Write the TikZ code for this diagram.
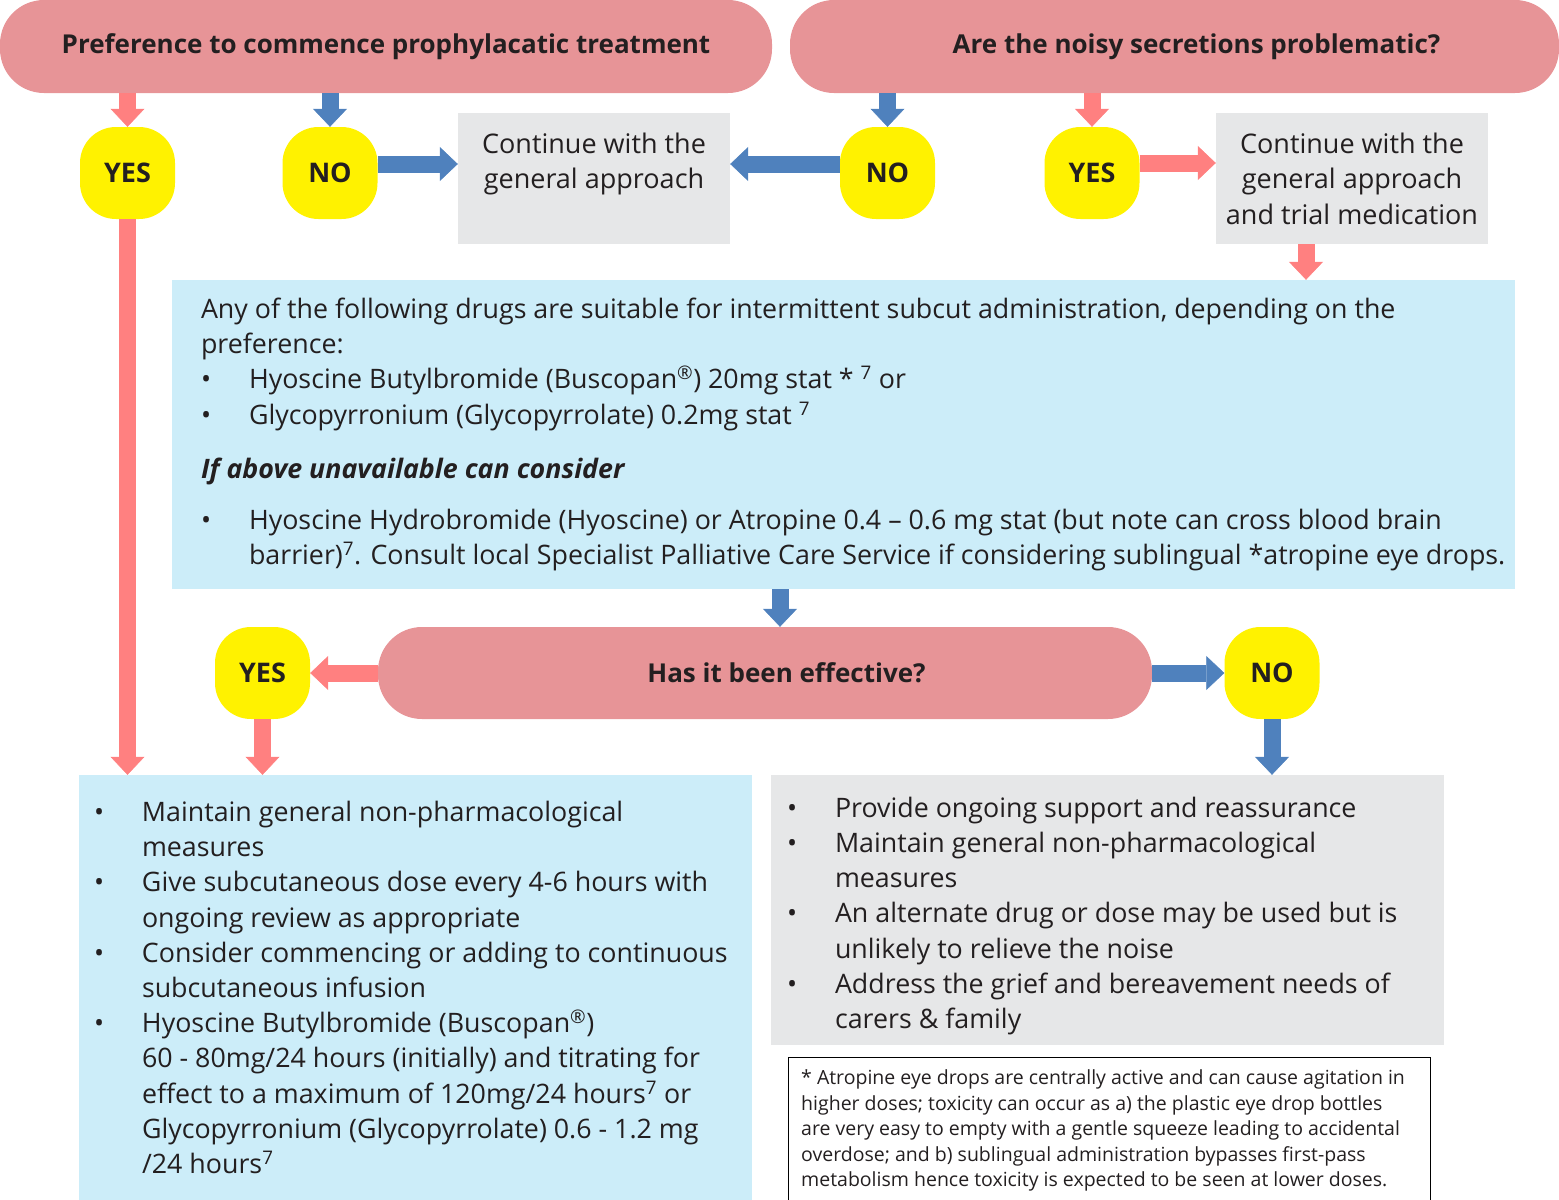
\documentclass[tikz,border=0pt]{standalone}
\usepackage{fontspec}
\setmainfont{Open Sans}
\usetikzlibrary{arrows.meta,positioning}
\definecolor{pillred}{HTML}{E79497}
\definecolor{yesno}{HTML}{FFF200}
\definecolor{pinkarrow}{HTML}{FF8080}
\definecolor{bluearrow}{HTML}{4F81BD}
\definecolor{skyfill}{HTML}{CCEDF9}
\definecolor{greyfill}{HTML}{E6E7E8}
\definecolor{ink}{HTML}{231F20}
\newcommand{\itemdot}{\makebox[48pt][l]{•}}
\newcommand{\itemgap}{\hspace*{48pt}}

\begin{document}
\begin{tikzpicture}[x=1pt,y=-1pt,
 pill/.style={fill=pillred,rounded corners=44pt,minimum height=93pt,inner sep=0pt,
   font=\fontsize{26}{30}\selectfont\bfseries,text=ink},
 yn/.style={fill=yesno,rounded corners=36pt,minimum width=95pt,minimum height=92pt,
   inner sep=0pt,font=\fontsize{27}{30}\selectfont\bfseries,text=ink},
 greybox/.style={fill=greyfill,inner sep=0pt,align=center,
   font=\fontsize{27}{35.5}\selectfont,text=ink},
 skybox/.style={fill=skyfill,inner sep=0pt},
 txt/.style={inner sep=0pt,align=left,font=\fontsize{26.8}{35.2}\selectfont,text=ink},
 pinkarr/.style={draw=pinkarrow,line width=17pt,
   -{Triangle[length=18pt,width=34pt,line width=0.5pt]}},
 bluearr/.style={draw=bluearrow,line width=17pt,
   -{Triangle[length=18pt,width=34pt,line width=0.5pt]}}]
\useasboundingbox (0,0) rectangle (1559,1200);

% top row
\node[pill,minimum width=772pt] (pref) at (386,46.5) {Preference to commence prophylacatic treatment};
\node[pill,minimum width=769pt] (noisy) at (1174.5,46.5) {\hspace{44pt}Are the noisy secretions problematic?};
\node[yn] (yes1) at (127.5,173) {YES};
\node[yn] (no1) at (330,173) {NO};
\node[greybox,minimum width=272pt,minimum height=131pt] (cont1) at (594,178.5)
  {Continue with the\\general approach\\~};
\node[yn] (no2) at (887.5,173) {NO};
\node[yn] (yes2) at (1092,173) {YES};
\node[greybox,minimum width=272pt,minimum height=131pt] (cont2) at (1352,178.5)
  {Continue with the\\general approach\\and trial medication};

% drug box
\node[skybox,minimum width=1343pt,minimum height=309pt] (drugs) at (843.5,434.5) {};
\node[txt,right=29pt of drugs.west] (drugtext) {Any of the following drugs are suitable for intermittent subcut administration, depending on the\\
preference:\\
\itemdot Hyoscine Butylbromide (Buscopan\textsuperscript{®}) 20mg stat * \textsuperscript{7} or\\
\itemdot Glycopyrronium (Glycopyrrolate) 0.2mg stat \textsuperscript{7}\\[19pt]
\textbf{\textit{If above unavailable can consider}}\\[16pt]
\itemdot Hyoscine Hydrobromide (Hyoscine) or Atropine 0.4 – 0.6 mg stat (but note can cross blood brain\\
\itemgap barrier)\textsuperscript{7}. Consult local Specialist Palliative Care Service if considering sublingual *atropine eye drops.};

% second question
\node[pill,minimum width=774pt,minimum height=92pt] (eff) at (765,673) {\hspace{43pt}Has it been effective?};
\node[yn] (yes3) at (262.5,673) {YES};
\node[yn] (no3) at (1272,673) {NO};

% outcome boxes
\node[skybox,minimum width=673pt,minimum height=425pt] (action) at (415.5,987.5) {};
\node[txt,right=15pt of action.west] (actiontext) {\itemdot Maintain general non-pharmacological\\
\itemgap measures\\
\itemdot Give subcutaneous dose every 4-6 hours with\\
\itemgap ongoing review as appropriate\\
\itemdot Consider commencing or adding to continuous\\
\itemgap subcutaneous infusion\\
\itemdot Hyoscine Butylbromide (Buscopan\textsuperscript{®})\\
\itemgap 60 - 80mg/24 hours (initially) and titrating for\\
\itemgap effect to a maximum of 120mg/24 hours\textsuperscript{7} or\\
\itemgap Glycopyrronium (Glycopyrrolate) 0.6 - 1.2 mg\\
\itemgap /24 hours\textsuperscript{7}};
\node[fill=greyfill,inner sep=0pt,minimum width=673pt,minimum height=270pt] (support) at (1107.5,910) {};
\node[txt,right=16pt of support.west,yshift=-6pt] (supporttext) {\itemdot Provide ongoing support and reassurance\\
\itemdot Maintain general non-pharmacological\\
\itemgap measures\\
\itemdot An alternate drug or dose may be used but is\\
\itemgap unlikely to relieve the noise\\
\itemdot Address the grief and bereavement needs of\\
\itemgap carers \& family};
\node[draw=black,line width=1pt,inner sep=0pt,minimum width=642pt,minimum height=146pt,anchor=north west] (note) at (788,1057) {};
\node[txt,font=\fontsize{19.5}{25.5}\selectfont,right=13pt of note.west] (notetext)
  {* Atropine eye drops are centrally active and can cause agitation in\\
higher doses; toxicity can occur as a) the plastic eye drop bottles\\
are very easy to empty with a gentle squeeze leading to accidental\\
overdose; and b) sublingual administration bypasses first-pass\\
metabolism hence toxicity is expected to be seen at lower doses.};

% connectors
\coordinate (c2) at ([xshift=-46pt]cont2.south);
\coordinate (dsplit) at ([xshift=15pt]eff.north);
\coordinate (n1) at ([yshift=9pt]no1.east);
\coordinate (n2) at ([yshift=9pt]no2.west);
\coordinate (y2) at ([yshift=10pt]yes2.east);
\draw[pinkarr] (yes1 |- pref.south) -- (yes1.north);
\draw[bluearr] (no1 |- pref.south) -- (no1.north);
\draw[bluearr] (n1) -- (n1 -| cont1.west);
\draw[bluearr] (n2) -- (n2 -| cont1.east);
\draw[bluearr] (no2 |- noisy.south) -- (no2.north);
\draw[pinkarr] (yes2 |- noisy.south) -- (yes2.north);
\draw[pinkarr] (y2) -- (y2 -| cont2.west);
\draw[pinkarr] (c2) -- (c2 |- drugs.north);
\draw[pinkarr] (yes1.south) -- (yes1 |- action.north);
\draw[bluearr] (dsplit |- drugs.south) -- (dsplit);
\draw[pinkarr] (eff.west) -- (yes3.east);
\draw[bluearr] (eff.east) -- (no3.west);
\draw[pinkarr] (yes3.south) -- (yes3 |- action.north);
\draw[bluearr] (no3.south) -- (no3 |- support.north);
\end{tikzpicture}
\end{document}
